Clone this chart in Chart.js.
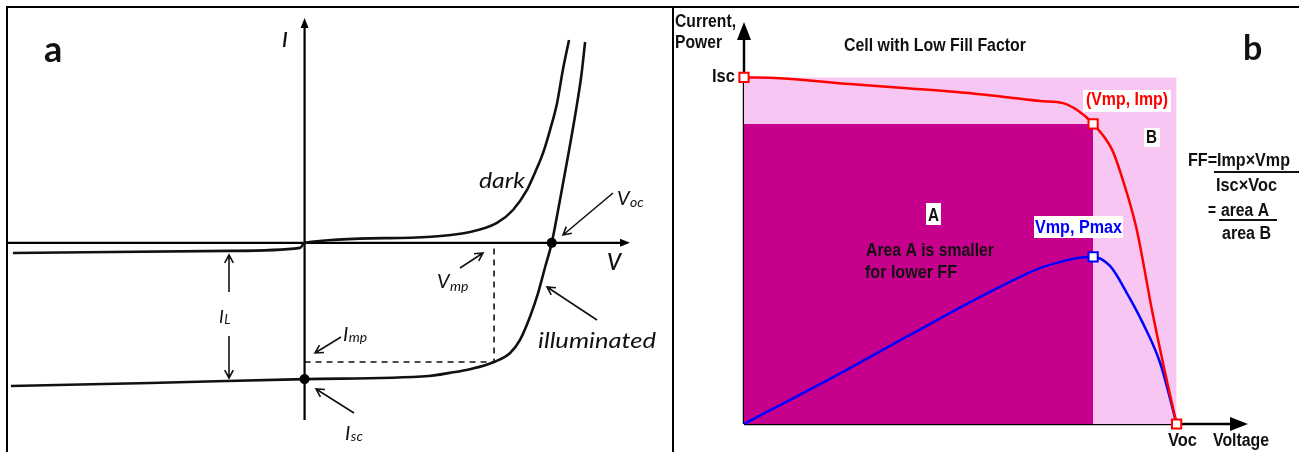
<!DOCTYPE html>
<html><head><meta charset="utf-8">
<script src="https://cdn.jsdelivr.net/npm/chart.js@4.4.1/dist/chart.umd.min.js"></script>
<style>
html,body{margin:0;padding:0;background:#fff;}
#wrap{position:relative;width:1299px;height:452px;overflow:hidden;background:#fff;}
canvas{position:absolute;top:0;}
#ca{left:0;} #cb{left:672px;}
.ln{position:absolute;background:#000;}
</style></head><body>
<div id="wrap">
<canvas id="ca" width="672" height="452"></canvas>
<canvas id="cb" width="627" height="452"></canvas>
<div class="ln" style="left:6px;top:6px;width:1293px;height:2px"></div>
<div class="ln" style="left:6px;top:6px;width:2px;height:446px"></div>
<div class="ln" style="left:672px;top:6px;width:2px;height:446px"></div>
</div>
<script>
// ---------- Panel a data (V in volts, I normalised to IL = 1) ----------
const darkV  = [-0.708,-0.181,-0.011,0,0.232,0.402,0.467,0.506,0.540,0.559,0.579,0.596,0.613,0.627,0.642];
const darkI  = [-0.074,-0.059,-0.037,0,0.036,0.080,0.146,0.241,0.388,0.513,0.660,0.829,1.027,1.269,1.489];
const illumV = [-0.713,-0.375,0,0.302,0.353,0.404,0.460,0.499,0.523,0.547,0.567,0.584,0.600,0.620,0.640,0.659,0.672,0.681];
const illumI = [-1.050,-1.028,-1.000,-0.977,-0.954,-0.925,-0.874,-0.808,-0.712,-0.544,-0.367,-0.177,0,0.315,0.645,0.975,1.232,1.474];
const vocA = 0.600, iscA = -1.0, vmpA = 0.460, impA = -0.874;

// ---------- Panel b data (normalised to Voc = 1, Isc = 1) ----------
const redV  = [0,0.083,0.245,0.377,0.492,0.608,0.684,0.737,0.770,0.807,0.851,0.878,0.908,0.943,0.973,1.0];
const redI  = [1.0,0.998,0.981,0.969,0.958,0.943,0.932,0.926,0.906,0.866,0.791,0.695,0.560,0.329,0.150,0];
const blueV = [0,0.203,0.388,0.573,0.684,0.730,0.770,0.807,0.846,0.885,0.922,0.962,1.0];
const blueP = [0,0.133,0.260,0.384,0.450,0.467,0.479,0.482,0.456,0.378,0.291,0.176,0];
const iscB = 1.0, vocB = 1.0, vmpB = 0.807, impB = 0.866, pmaxB = 0.482;

const fontA = "Lato, 'Open Sans', sans-serif";
const fontB = "'Liberation Sans', Arial, sans-serif";

function pts(xs, ys){ return xs.map((x,i)=>({x:x, y:ys[i]})); }

function openArrow(ctx,x1,y1,x2,y2,len){
  len = len||9;
  const a = Math.atan2(y2-y1,x2-x1), s = 0.5;
  ctx.beginPath();
  ctx.moveTo(x1,y1); ctx.lineTo(x2,y2);
  ctx.moveTo(x2-len*Math.cos(a-s), y2-len*Math.sin(a-s));
  ctx.lineTo(x2,y2);
  ctx.lineTo(x2-len*Math.cos(a+s), y2-len*Math.sin(a+s));
  ctx.stroke();
}
function triHead(ctx,tx,ty,dx,dy,len,half){
  const px=-dy, py=dx;
  ctx.beginPath();
  ctx.moveTo(tx,ty);
  ctx.lineTo(tx-dx*len+px*half, ty-dy*len+py*half);
  ctx.lineTo(tx-dx*len-px*half, ty-dy*len-py*half);
  ctx.closePath(); ctx.fill();
}
function fitText(ctx,t,x,y,w){
  const m = ctx.measureText(t).width;
  ctx.save(); ctx.translate(x,y); ctx.scale(w/m,1); ctx.fillText(t,0,0); ctx.restore();
}
function subText(ctx,main,sub,x,y,fm,fs,dy){
  ctx.font = fm; ctx.fillText(main,x,y);
  const w = ctx.measureText(main).width;
  ctx.font = fs; ctx.fillText(sub,x+w+0.5,y+(dy||0));
}

// ---------- Panel a plugins ----------
const axesA = {
  id:'axesA',
  beforeDatasetsDraw(chart){
    const c = chart.ctx, a = chart.chartArea, sx = chart.scales.x, sy = chart.scales.y;
    const x0 = sx.getPixelForValue(0), y0 = sy.getPixelForValue(0);
    c.save(); c.strokeStyle='#000'; c.fillStyle='#000'; c.lineWidth=2.2;
    c.beginPath(); c.moveTo(a.left-1,y0); c.lineTo(a.right-6,y0); c.stroke();
    triHead(c,a.right,y0,1,0,10,4);
    c.beginPath(); c.moveTo(x0,a.bottom); c.lineTo(x0,a.top+6); c.stroke();
    triHead(c,x0,a.top,0,-1,10,4);
    c.restore();
  }
};
const textA = {
  id:'textA',
  afterDraw(chart){
    const c = chart.ctx;
    c.save();
    c.fillStyle='#111'; c.strokeStyle='#111'; c.lineWidth=1.6; c.textBaseline='alphabetic';
    // arrows
    openArrow(c,613,193,563,235);
    openArrow(c,460,268,483,253);
    openArrow(c,597,320,547,287);
    openArrow(c,341,337,315,353);
    openArrow(c,354,413,316,389);
    openArrow(c,229,292,229,255);
    openArrow(c,229,336,229,378);
    // labels
    c.font = "bold 36px "+fontA; c.fillText('a',44,62);
    c.font = "italic 600 21px "+fontA; c.fillText('I',282,47);
    c.font = "italic 600 22px "+fontA; c.fillText('V',607,270);
    c.font = "italic 21px "+fontA; fitText(c,'dark',479,188,46);
    c.font = "italic 21px "+fontA; fitText(c,'illuminated',538,348,118);
    subText(c,'V','mp',437,288,"italic 20px "+fontA,"italic 14px "+fontA,3);
    subText(c,'V','oc',617,205,"italic 20px "+fontA,"italic 14px "+fontA,2);
    subText(c,'I','mp',343,341,"italic 20px "+fontA,"italic 14px "+fontA,1);
    subText(c,'I','L',219,323,"italic 18px "+fontA,"italic 13px "+fontA,1);
    subText(c,'I','sc',345,440,"italic 20px "+fontA,"italic 14px "+fontA,1);
    c.restore();
  }
};

new Chart(document.getElementById('ca'), {
  type:'scatter',
  data:{datasets:[
    {data:[{x:vocA,y:0},{x:0,y:iscA}], showLine:false, pointRadius:5, pointBackgroundColor:'#000', pointBorderColor:'#000', pointBorderWidth:0, clip:false},
    {data:pts(darkV,darkI), showLine:true, borderColor:'#111', borderWidth:2.6, pointRadius:0, cubicInterpolationMode:'monotone', clip:false},
    {data:pts(illumV,illumI), showLine:true, borderColor:'#111', borderWidth:2.6, pointRadius:0, cubicInterpolationMode:'monotone', clip:false},
    {data:[{x:0,y:impA},{x:vmpA,y:impA},{x:vmpA,y:0}], showLine:true, borderColor:'#111', borderWidth:1.6, borderDash:[6,5], pointRadius:0, tension:0, clip:false}
  ]},
  options:{
    responsive:false, animation:false, devicePixelRatio:1, events:[],
    layout:{padding:{left:8,right:42,top:18,bottom:32}},
    plugins:{legend:{display:false}, tooltip:{enabled:false}},
    scales:{
      x:{type:'linear', min:-0.72, max:0.79, display:false},
      y:{type:'linear', min:-1.3, max:1.65, display:false}
    }
  },
  plugins:[axesA,textA]
});

// ---------- Panel b plugins ----------
const axesB = {
  id:'axesB',
  beforeDatasetsDraw(chart){
    const c = chart.ctx, a = chart.chartArea, sx = chart.scales.x, sy = chart.scales.y;
    const x0 = sx.getPixelForValue(0), y0 = sy.getPixelForValue(0);
    c.save(); c.strokeStyle='#000'; c.fillStyle='#000'; c.lineWidth=2.4;
    c.beginPath(); c.moveTo(x0,y0); c.lineTo(a.right-12,y0); c.stroke();
    triHead(c,a.right,y0,1,0,18,7);
    c.beginPath(); c.moveTo(x0,y0); c.lineTo(x0,a.top+12); c.stroke();
    triHead(c,x0,a.top,0,-1,18,7);
    c.restore();
  }
};
function boxText(c,t,x,y,w,color,box){
  c.fillStyle='#fff'; c.fillRect(box[0],box[1],box[2],box[3]);
  c.fillStyle=color; fitText(c,t,x,y,w);
}
const textB = {
  id:'textB',
  afterDraw(chart){
    const c = chart.ctx;
    c.save(); c.textBaseline='alphabetic';
    c.fillStyle='#111';
    c.font = "bold 18px "+fontB;
    fitText(c,'Current,',3,27,61);
    fitText(c,'Power',3,48,47);
    c.font = "bold 19px "+fontB;
    fitText(c,'Cell with Low Fill Factor',172,51,182);
    c.font = "bold 18px "+fontB;
    fitText(c,'Isc',40,82,23);
    boxText(c,'(Vmp, Imp)',414,105,82,'#ff0000',[411,90,88,22]);
    boxText(c,'B',474,143,11,'#111',[472,128,16,19]);
    boxText(c,'A',256,221,11,'#111',[254,203,15,22]);
    boxText(c,'Vmp, Pmax',363,233,87,'#0000ff',[362,216,89,22]);
    c.fillStyle='#111';
    fitText(c,'Area A is smaller',194,256,128);
    fitText(c,'for lower FF',193,278,92);
    fitText(c,'FF=Imp\u00d7Vmp',516,166,102);
    fitText(c,'Isc\u00d7Voc',544,191,61);
    fitText(c,'=',536,216,8);
    fitText(c,'area A',549,216,48);
    fitText(c,'area B',550,239,49);
    fitText(c,'Voc',496,446,29);
    fitText(c,'Voltage',541,446,56);
    c.fillRect(542,171,85,2);
    c.fillRect(547,219,58,2);
    c.font = "bold 34px "+fontA; c.fillText('b',571,60);
    c.restore();
  }
};

new Chart(document.getElementById('cb'), {
  type:'scatter',
  data:{datasets:[
    {data:[{x:0,y:iscB},{x:vmpB,y:impB},{x:vocB,y:0}], showLine:false, pointStyle:'rect', pointRadius:6.5, pointBackgroundColor:'#fff', pointBorderColor:'#ff0000', pointBorderWidth:2, clip:false},
    {data:[{x:vmpB,y:pmaxB}], showLine:false, pointStyle:'rect', pointRadius:6.5, pointBackgroundColor:'#fff', pointBorderColor:'#0000ff', pointBorderWidth:2, clip:false},
    {data:pts(redV,redI), showLine:true, borderColor:'#ff0000', borderWidth:2.5, pointRadius:0, cubicInterpolationMode:'monotone', clip:false},
    {data:pts(blueV,blueP), showLine:true, borderColor:'#0000ff', borderWidth:2.5, pointRadius:0, cubicInterpolationMode:'monotone', clip:false},
    {data:[{x:0,y:impB},{x:vmpB,y:impB}], showLine:true, fill:'origin', backgroundColor:'#c6008c', borderColor:'rgba(0,0,0,0)', borderWidth:0, pointRadius:0, tension:0},
    {data:[{x:0,y:iscB},{x:vocB,y:iscB}], showLine:true, fill:'origin', backgroundColor:'#f7c6f2', borderColor:'rgba(0,0,0,0)', borderWidth:0, pointRadius:0, tension:0}
  ]},
  options:{
    responsive:false, animation:false, devicePixelRatio:1, events:[],
    layout:{padding:{left:72,right:51,top:22,bottom:28}},
    plugins:{legend:{display:false}, tooltip:{enabled:false}},
    scales:{
      x:{type:'linear', min:0, max:1.165, display:false},
      y:{type:'linear', min:0, max:1.16, display:false}
    }
  },
  plugins:[axesB,textB]
});
</script>
</body></html>
